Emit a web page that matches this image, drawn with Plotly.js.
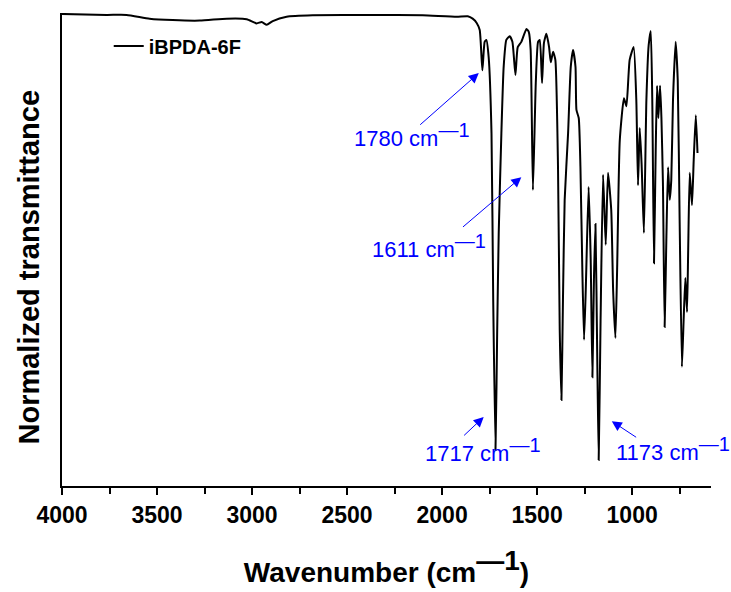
<!DOCTYPE html>
<html>
<head>
<meta charset="utf-8">
<script src="https://cdn.plot.ly/plotly-3.0.1.min.js"></script>
<style>html,body{margin:0;padding:0;background:#fff;}#chart{width:731px;height:592px;}</style>
</head>
<body>
<div id="chart"></div>
<script>
// FTIR spectrum of iBPDA-6F
const seriesName = "iBPDA-6F";
const wavenumber = [4000,3765,3660,3539,3418,3275,3133,3028,2976,2949,2923,2891,2818,2681,2365,2102,1923,1865,1839,1818,1802,1788,1776,1767,1755,1740,1731,1719,1710,1702,1688,1676,1662,1644,1630,1614,1602,1583,1556,1544,1534,1522,1507,1495,1486,1474,1464,1451,1437,1428,1416,1404,1390,1381,1372,1364,1355,1337,1323,1311,1298,1293,1281,1272,1262,1253,1244,1229,1218,1209,1201,1193,1184,1176,1166,1153,1139,1127,1110,1100,1088,1079,1065,1043,1030,1013,992,978,969,960,950,938,925,913,902,894,885,876,869,862,853,846,838,829,820,811,802,794,785,771,760,750,738,729,720,711,705,697,685,676,665,656];
const transmittance = [0.998,0.996,0.996,0.988,0.985,0.984,0.988,0.987,0.978,0.981,0.975,0.983,0.992,0.995,0.996,0.995,0.992,0.993,0.988,0.979,0.964,0.879,0.939,0.943,0.907,0.746,0.393,0.076,0.330,0.535,0.746,0.886,0.943,0.951,0.939,0.869,0.928,0.939,0.966,0.960,0.922,0.626,0.852,0.939,0.943,0.852,0.937,0.956,0.928,0.896,0.918,0.901,0.674,0.330,0.182,0.393,0.605,0.746,0.886,0.922,0.886,0.795,0.778,0.674,0.457,0.309,0.415,0.632,0.478,0.230,0.436,0.554,0.288,0.055,0.351,0.658,0.510,0.662,0.584,0.414,0.313,0.457,0.731,0.820,0.803,0.901,0.928,0.816,0.636,0.757,0.679,0.535,0.816,0.932,0.962,0.816,0.471,0.710,0.846,0.778,0.846,0.780,0.641,0.336,0.520,0.674,0.605,0.647,0.816,0.939,0.858,0.562,0.252,0.351,0.440,0.368,0.499,0.662,0.594,0.689,0.784,0.704];

// Peak labels
const peakLabels = ["1780", "1611", "1717", "1173"];
const labelX = [2472, 2381, 2102, 1097];
const labelY = [0.705, 0.470, 0.038, 0.040];
const arrowHeadX = [1807, 1583, 1781, 1107];
const arrowHeadY = [0.873, 0.653, 0.146, 0.137];
const arrowTailX = [2123, 1898, 1892, 971];
const arrowTailY = [0.761, 0.545, 0.104, 0.101];

const xTickVals = [4000, 3500, 3000, 2500, 2000, 1500, 1000];
const yTitle = "Normalized transmittance";

const FONT = "Arial, 'Liberation Sans', sans-serif";
const BLUE = "#0000ff";

const trace = {
  x: wavenumber, y: transmittance, type: "scatter", mode: "lines",
  name: seriesName, line: {color: "#000000", width: 2, shape: "spline", smoothing: 0.5}
};

const annotations = [];
peakLabels.forEach((lab, i) => {
  annotations.push({
    x: labelX[i], y: labelY[i], xref: "x", yref: "y", xanchor: "left", yanchor: "bottom",
    text: lab + " cm<sup><span style='font-size:20px'>—1</span></sup>",
    showarrow: false, font: {family: FONT, size: 22, color: BLUE}
  });
  annotations.push({
    x: arrowHeadX[i], y: arrowHeadY[i], xref: "x", yref: "y",
    ax: arrowTailX[i], ay: arrowTailY[i], axref: "x", ayref: "y",
    text: "", showarrow: true, arrowhead: 2, arrowsize: 2, arrowwidth: 1,
    arrowcolor: BLUE, standoff: 0, startstandoff: 0
  });
});
// y-axis title (placed slightly below the plot centre, as in the reference)
annotations.push({
  x: -0.0508, y: 0.462, xref: "paper", yref: "paper", xanchor: "center", yanchor: "middle",
  text: yTitle, textangle: -90, showarrow: false,
  font: {family: FONT, size: 29, color: "#000", weight: "bold"}
});

const layout = {
  width: 731, height: 592,
  margin: {l: 62, r: 20, t: 13, b: 106},
  paper_bgcolor: "#ffffff", plot_bgcolor: "#ffffff",
  showlegend: true,
  legend: {x: 0.072, y: 0.93, xanchor: "left", yanchor: "middle",
           font: {family: FONT, size: 20, color: "#000", weight: "bold"},
           bgcolor: "rgba(0,0,0,0)"},
  xaxis: {
    range: [4000, 585], showgrid: false, zeroline: false,
    showline: true, linecolor: "#000", linewidth: 2,
    ticks: "outside", ticklen: 7, tickwidth: 2, tickcolor: "#000",
    tickvals: xTickVals, ticktext: xTickVals.map(String),
    minor: {dtick: 250, ticks: "outside", ticklen: 6, tickwidth: 2, tickcolor: "#000", showgrid: false},
    tickfont: {family: FONT, size: 23, color: "#000", weight: "bold"},
    title: {text: "Wavenumber (cm<sup><span style='font-size:28px'>—1</span></sup>)", standoff: 36,
            font: {family: FONT, size: 28, color: "#000", weight: "bold"}}
  },
  yaxis: {
    range: [0, 1], showgrid: false, zeroline: false,
    showline: true, linecolor: "#000", linewidth: 2,
    ticks: "", showticklabels: false
  },
  annotations: annotations
};

Plotly.newPlot("chart", [trace], layout, {displayModeBar: false, staticPlot: true});
</script>
</body>
</html>
